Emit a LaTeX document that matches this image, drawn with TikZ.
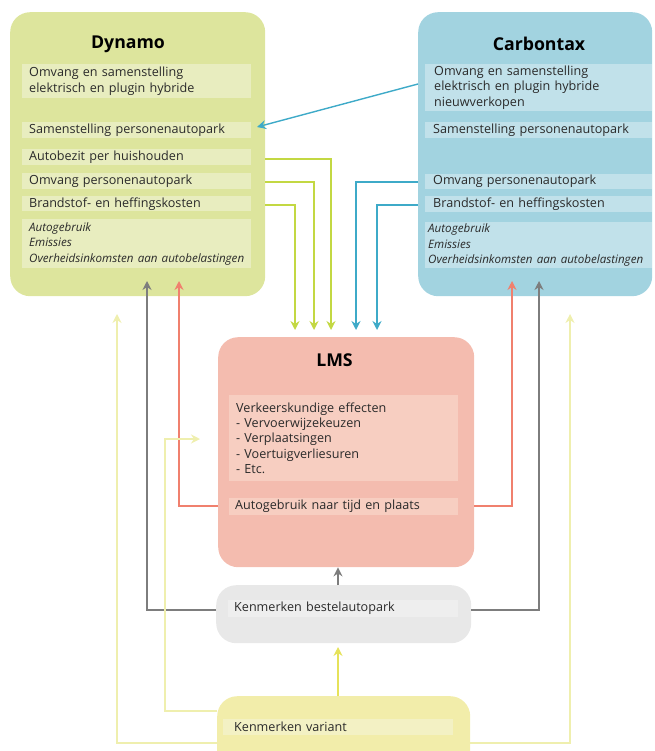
\documentclass[tikz,border=0pt]{standalone}
\usepackage{fontspec}
\setmainfont{Open Sans}
\usetikzlibrary{arrows.meta,calc}

\definecolor{dynfill}{HTML}{DDE59D}
\definecolor{dynsub}{HTML}{E8EDBF}
\definecolor{ctxfill}{HTML}{A2D3E0}
\definecolor{ctxsub}{HTML}{C1E1EA}
\definecolor{lmsfill}{HTML}{F4BCAF}
\definecolor{lmssub}{HTML}{F7CEC1}
\definecolor{bstfill}{HTML}{E8E8E8}
\definecolor{bstsub}{HTML}{EEEEEE}
\definecolor{varfill}{HTML}{F2EDAA}
\definecolor{varsub}{HTML}{F3F1C4}
\definecolor{txt}{HTML}{2A2A2A}
\definecolor{grn}{HTML}{C3D843}
\definecolor{blu}{HTML}{3EAAC8}
\definecolor{rd}{HTML}{F0806E}
\definecolor{gry}{HTML}{7D7D7D}
\definecolor{lylw}{HTML}{EFEFAE}
\definecolor{ylw}{HTML}{E6E25A}

\newcommand{\itl}[1]{\mbox{\itshape\fontsize{11.6}{15.3}\selectfont #1}}

\tikzset{
  bigbox/.style={rounded corners=20pt, draw=none, inner sep=0pt, anchor=north west},
  sub/.style={inner ysep=0pt, anchor=north west, align=left, text=txt,
    font=\fontsize{12.6}{15.3}\selectfont},
  ttl/.style={text=black, font=\bfseries\fontsize{17.7}{20}\selectfont},
  arr/.style={line width=1.4pt, -{Stealth[length=9pt,width=9pt,inset=3pt]}},
  thinarr/.style={line width=1.2pt, -{Stealth[length=9pt,width=9pt,inset=3pt]}},
}

\begin{document}
\begin{tikzpicture}[x=1pt,y=-1pt]
\clip (0,0) rectangle (654,751);

% big boxes
\node[bigbox, fill=dynfill, minimum width=255pt, minimum height=284pt] (dyn) at (10,12) {};
\node[bigbox, fill=ctxfill, minimum width=234pt, minimum height=284pt] (ctx) at (418,12) {};
\node[bigbox, fill=lmsfill, minimum width=256pt, minimum height=230pt] (lms) at (218,337) {};
\node[bigbox, fill=bstfill, minimum width=255pt, minimum height=58pt] (bst) at (216,585) {};
\node[bigbox, fill=varfill, minimum width=253pt, minimum height=94pt] (var) at (217,696) {};

% titles
\node[ttl] (dynt) at (128,44) {Dynamo};
\node[ttl] (ctxt) at (539,44) {Carbontax};
\node[ttl] (lmst) at (334.5,360) {LMS};

% Dynamo sub boxes
\node[sub, fill=dynsub, inner xsep=7pt, text width=215pt, minimum height=34pt] (d1) at (22,64)
  {Omvang en samenstelling\\elektrisch en plugin hybride};
\node[sub, fill=dynsub, inner xsep=7pt, text width=215pt, minimum height=16pt] (d2) at (22,122)
  {Samenstelling personenautopark};
\node[sub, fill=dynsub, inner xsep=7pt, text width=215pt, minimum height=16pt] (d3) at (22,149)
  {Autobezit per huishouden};
\node[sub, fill=dynsub, inner xsep=7pt, text width=215pt, minimum height=16pt] (d4) at (22,173)
  {Omvang personenautopark};
\node[sub, fill=dynsub, inner xsep=7pt, text width=215pt, minimum height=15pt] (d5) at (22,196)
  {Brandstof- en heffingskosten};
\node[sub, fill=dynsub, inner xsep=7pt, text width=215pt, minimum height=49pt] (d6) at (22,219)
  {\itl{Autogebruik}\\\itl{Emissies}\\\itl{Overheidsinkomsten aan autobelastingen}};

% Carbontax sub boxes
\node[sub, fill=ctxsub, inner xsep=9pt, text width=209pt, minimum height=47pt] (c1) at (425,64)
  {Omvang en samenstelling\\elektrisch en plugin hybride\\nieuwverkopen};
\node[sub, fill=ctxsub, inner xsep=8pt, text width=211pt, minimum height=16pt] (c2) at (425,122)
  {Samenstelling personenautopark};
\node[sub, fill=ctxsub, inner xsep=8pt, text width=211pt, minimum height=15pt] (c3) at (425,174)
  {Omvang personenautopark};
\node[sub, fill=ctxsub, inner xsep=8pt, text width=211pt, minimum height=16pt] (c4) at (425,196)
  {Brandstof- en heffingskosten};
\node[sub, fill=ctxsub, inner xsep=3pt, text width=221pt, minimum height=46pt] (c5) at (425,222)
  {\itl{Autogebruik}\\\itl{Emissies}\\\itl{Overheidsinkomsten aan autobelastingen}};

% LMS sub boxes
\node[sub, fill=lmssub, inner xsep=7pt, text width=215pt, minimum height=86pt] (l1) at (229,395)
  {Verkeerskundige effecten\\- Vervoerwijzekeuzen\\- Verplaatsingen\\- Voertuigverliesuren\\- Etc.};
\node[sub, fill=lmssub, inner xsep=6pt, text width=217pt, minimum height=17pt] (l2) at (229,498)
  {Autogebruik naar tijd en plaats};

% Bestel / variant sub boxes
\node[sub, fill=bstsub, inner xsep=6pt, text width=218pt, minimum height=17pt] (bs) at (228,600)
  {Kenmerken bestelautopark};
\node[sub, fill=varsub, inner xsep=11pt, text width=208pt, minimum height=16pt] (vs) at (223,719)
  {Kenmerken variant};

% line levels and free-end coordinates
\coordinate (yd3) at (0,159);
\coordinate (yd4) at (0,182);
\coordinate (yd5) at (0,205);
\coordinate (yc1) at (0,84);
\coordinate (yl2) at (0,506);
\coordinate (ybs) at (0,610);
\coordinate (yv1) at (0,743);
\coordinate (yv2) at (0,711);
\coordinate (tB) at (257,127);
\coordinate (g1) at (331,330);
\coordinate (g2) at (314,330);
\coordinate (g3) at (295,330);
\coordinate (b1) at (356,330);
\coordinate (b2) at (377,330);
\coordinate (ug1) at (147,281);
\coordinate (ur1) at (179,281);
\coordinate (ur2) at (512,281);
\coordinate (ug2) at (539,281);
\coordinate (uy1) at (117,314);
\coordinate (uy2) at (570,314);
\coordinate (iyc) at (165,439);
\coordinate (iy) at (200,439);
\coordinate (cx) at (338,0);
\coordinate (yt) at (338,647);

% connectors
\draw[arr, blu] (ctx.west |- yc1) -- (tB);
\draw[arr, grn] (dyn.east |- yd3) -| (g1);
\draw[arr, grn] (dyn.east |- yd4) -| (g2);
\draw[arr, grn] (dyn.east |- yd5) -| (g3);
\draw[arr, blu] (ctx.west |- yd4) -| (b1);
\draw[arr, blu] (ctx.west |- yd5) -| (b2);

\draw[arr, gry] (bst.west |- ybs) -| (ug1);
\draw[arr, rd] (lms.west |- yl2) -| (ur1);
\draw[arr, rd] (lms.east |- yl2) -| (ur2);
\draw[arr, gry] (bst.east |- ybs) -| (ug2);

\draw[thinarr, lylw] (var.west |- yv1) -| (uy1);
\draw[thinarr, lylw] (var.east |- yv1) -| (uy2);
\draw[thinarr, lylw] (var.west |- yv2) -| (iyc) -- (iy);

\draw[arr, gry] (bst.north -| cx) -- (lms.south -| cx);
\draw[arr, ylw] (var.north -| cx) -- (yt);
\end{tikzpicture}
\end{document}
